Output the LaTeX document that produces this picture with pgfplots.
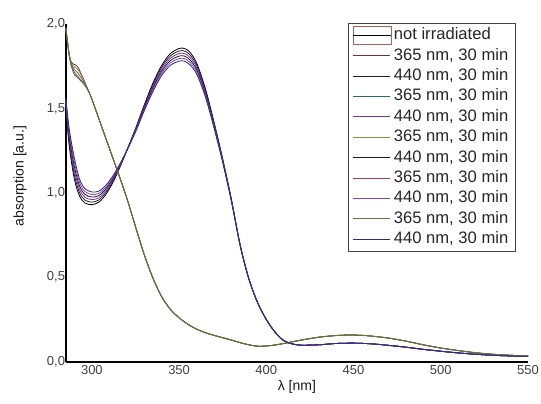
\documentclass[border=0pt]{standalone}
\usepackage{fontspec}
\setmainfont{Liberation Sans}
\usepackage{pgfplots}
\usepackage{pgfplotstable}
\pgfplotsset{compat=1.18}

\definecolor{cB1}{HTML}{7A2A3A}
\definecolor{cA1}{HTML}{2A1A3A}
\definecolor{cB2}{HTML}{2A6A6A}
\definecolor{cA2}{HTML}{7A30A8}
\definecolor{cB3}{HTML}{8A8A40}
\definecolor{cA3}{HTML}{1A1A2A}
\definecolor{cB4}{HTML}{A04050}
\definecolor{cA4}{HTML}{9040B8}
\definecolor{cB5}{HTML}{5A7A38}
\definecolor{cA5}{HTML}{2A2A88}
\definecolor{boxred}{HTML}{B85A5A}

% family A: not irradiated (a0) and after 440 nm (a1..a5)
\pgfplotstableread{
lam a0 a1 a2 a3 a4 a5
285 1.52 1.53 1.54 1.55 1.56 1.57
287 1.28 1.30 1.32 1.34 1.36 1.38
290 1.08 1.105 1.13 1.155 1.18 1.205
293 0.98 1.00 1.02 1.04 1.06 1.08
296 0.94 0.957 0.974 0.991 1.008 1.025
300 0.93 0.945 0.96 0.975 0.99 1.005
304 0.945 0.958 0.971 0.984 0.997 1.01
308 0.99 1.001 1.012 1.023 1.034 1.045
312 1.06 1.068 1.076 1.084 1.092 1.10
316 1.15 1.154 1.158 1.162 1.166 1.17
320 1.25 1.25 1.25 1.25 1.25 1.25
325 1.38 1.376 1.372 1.368 1.364 1.36
330 1.52 1.513 1.506 1.499 1.492 1.485
335 1.65 1.64 1.63 1.62 1.61 1.60
340 1.755 1.743 1.731 1.719 1.707 1.695
345 1.825 1.811 1.797 1.783 1.769 1.755
350 1.855 1.84 1.825 1.81 1.795 1.78
353 1.855 1.84 1.825 1.81 1.795 1.78
356 1.835 1.82 1.805 1.79 1.775 1.76
360 1.77 1.757 1.744 1.731 1.718 1.705
365 1.62 1.61 1.60 1.59 1.58 1.57
370 1.42 1.413 1.406 1.399 1.392 1.385
375 1.20 1.196 1.192 1.188 1.184 1.18
380 0.96 0.958 0.956 0.954 0.952 0.95
385 0.69 0.69 0.69 0.69 0.69 0.69
390 0.49 0.49 0.49 0.49 0.49 0.49
395 0.35 0.35 0.35 0.35 0.35 0.35
400 0.25 0.25 0.25 0.25 0.25 0.25
405 0.175 0.175 0.175 0.175 0.175 0.175
410 0.125 0.125 0.125 0.125 0.125 0.125
415 0.105 0.105 0.105 0.105 0.105 0.105
420 0.098 0.098 0.098 0.098 0.098 0.098
430 0.10 0.10 0.10 0.10 0.10 0.10
440 0.108 0.108 0.108 0.108 0.108 0.108
450 0.11 0.11 0.11 0.11 0.11 0.11
460 0.106 0.106 0.106 0.106 0.106 0.106
470 0.097 0.097 0.097 0.097 0.097 0.097
480 0.086 0.086 0.086 0.086 0.086 0.086
490 0.073 0.073 0.073 0.073 0.073 0.073
500 0.062 0.062 0.062 0.062 0.062 0.062
510 0.052 0.052 0.052 0.052 0.052 0.052
520 0.044 0.044 0.044 0.044 0.044 0.044
530 0.038 0.038 0.038 0.038 0.038 0.038
540 0.034 0.034 0.034 0.034 0.034 0.034
550 0.032 0.032 0.032 0.032 0.032 0.032
}\tableA

% family B: after 365 nm (b1..b5)
\pgfplotstableread{
lam b1 b2 b3 b4 b5
285 1.98 1.975 1.98 1.975 1.98
286 1.90 1.89 1.90 1.895 1.90
287 1.82 1.81 1.82 1.815 1.82
288 1.78 1.76 1.775 1.765 1.77
289 1.765 1.725 1.755 1.735 1.745
290 1.76 1.70 1.745 1.715 1.73
291 1.755 1.69 1.74 1.70 1.72
292 1.745 1.68 1.73 1.69 1.71
293 1.725 1.67 1.715 1.675 1.695
294 1.70 1.66 1.695 1.665 1.68
295 1.68 1.65 1.675 1.655 1.665
296 1.655 1.635 1.652 1.64 1.645
297 1.63 1.62 1.628 1.622 1.625
298 1.607 1.603 1.606 1.604 1.605
300 1.555 1.555 1.555 1.555 1.555
305 1.41 1.41 1.41 1.41 1.41
310 1.265 1.265 1.265 1.265 1.265
315 1.12 1.12 1.12 1.12 1.12
320 0.97 0.97 0.97 0.97 0.97
325 0.80 0.80 0.80 0.80 0.80
330 0.635 0.635 0.635 0.635 0.635
335 0.495 0.495 0.495 0.495 0.495
340 0.385 0.385 0.385 0.385 0.385
345 0.31 0.31 0.31 0.31 0.31
350 0.26 0.26 0.26 0.26 0.26
355 0.222 0.222 0.222 0.222 0.222
360 0.193 0.193 0.193 0.193 0.193
365 0.172 0.172 0.172 0.172 0.172
370 0.156 0.156 0.156 0.156 0.156
375 0.142 0.142 0.142 0.142 0.142
380 0.128 0.128 0.128 0.128 0.128
385 0.113 0.113 0.113 0.113 0.113
390 0.10 0.10 0.10 0.10 0.10
395 0.092 0.092 0.092 0.092 0.092
400 0.093 0.093 0.093 0.093 0.093
405 0.099 0.099 0.099 0.099 0.099
410 0.108 0.108 0.108 0.108 0.108
415 0.118 0.118 0.118 0.118 0.118
420 0.128 0.128 0.128 0.128 0.128
430 0.145 0.145 0.145 0.145 0.145
440 0.155 0.155 0.155 0.155 0.155
448 0.158 0.158 0.158 0.158 0.158
455 0.156 0.156 0.156 0.156 0.156
460 0.152 0.152 0.152 0.152 0.152
470 0.14 0.14 0.14 0.14 0.14
480 0.122 0.122 0.122 0.122 0.122
490 0.10 0.10 0.10 0.10 0.10
500 0.081 0.081 0.081 0.081 0.081
510 0.066 0.066 0.066 0.066 0.066
520 0.053 0.053 0.053 0.053 0.053
530 0.044 0.044 0.044 0.044 0.044
540 0.038 0.038 0.038 0.038 0.038
550 0.034 0.034 0.034 0.034 0.034
}\tableB

\begin{document}
\begin{tikzpicture}
\begin{axis}[
  name=ax,
  scale only axis,
  width=462.3bp, height=337.7bp,
  xmin=285, xmax=550, ymin=0, ymax=2,
  axis lines=left,
  axis line style={line width=1.6bp, -},
  xtick={300,350,400,450,500,550},
  ytick={0,0.5,1,1.5,2},
  major tick length=0pt,
  /pgf/number format/assume math mode=true,
  ticklabel style={font=\fontsize{13bp}{15bp}\selectfont, text=black!75},
  xticklabel style={/pgf/number format/1000 sep={}},
  yticklabel style={inner xsep=0.5bp, /pgf/number format/.cd, fixed, fixed zerofill, precision=1, use comma},
  xlabel={λ [nm]},
  ylabel={absorption [a.u.]},
  label style={font=\fontsize{14bp}{16bp}\selectfont, text=black!90},
  xlabel style={at={(axis description cs:0.5,0)}, anchor=north, yshift=-18bp, inner sep=0pt},
  ylabel style={at={(axis description cs:-0.0989,0.55)}, anchor=center, inner sep=0pt},
  every axis plot/.append style={line width=0.8bp, smooth},
  legend image code/.code={\draw[#1] (0bp,0bp) -- (37bp,0bp);},
  legend cell align=left,
  legend style={at={(1,1)}, anchor=north east, xshift=-12.3bp, yshift=1.3bp,
    draw=black!75, line width=0.8bp, fill=white,
    font=\fontsize{16.6bp}{18bp}\selectfont, text=black!85,
    inner xsep=4.5bp, inner ysep=1.8bp, row sep=0pt,
    nodes={inner xsep=2.5bp, inner ysep=1.2bp, text height=13.5bp, text depth=4.5bp}},
]
\addplot[black, legend image code/.code={\draw[boxred, line width=0.8bp, fill=white] (0bp,-9bp) rectangle (38bp,9bp); \draw[black, line width=0.8bp] (0bp,0bp) -- (38bp,0bp);}] table[x=lam, y=a0] {\tableA};
\addlegendentry{not irradiated}
\addplot[cB1] table[x=lam, y=b1] {\tableB};
\addlegendentry{365 nm, 30 min}
\addplot[cA1] table[x=lam, y=a1] {\tableA};
\addlegendentry{440 nm, 30 min}
\addplot[cB2] table[x=lam, y=b2] {\tableB};
\addlegendentry{365 nm, 30 min}
\addplot[cA2] table[x=lam, y=a2] {\tableA};
\addlegendentry{440 nm, 30 min}
\addplot[cB3] table[x=lam, y=b3] {\tableB};
\addlegendentry{365 nm, 30 min}
\addplot[cA3] table[x=lam, y=a3] {\tableA};
\addlegendentry{440 nm, 30 min}
\addplot[cB4] table[x=lam, y=b4] {\tableB};
\addlegendentry{365 nm, 30 min}
\addplot[cA4] table[x=lam, y=a4] {\tableA};
\addlegendentry{440 nm, 30 min}
\addplot[cB5] table[x=lam, y=b5] {\tableB};
\addlegendentry{365 nm, 30 min}
\addplot[cA5] table[x=lam, y=a5] {\tableA};
\addlegendentry{440 nm, 30 min}
\end{axis}
\pgfresetboundingbox
\path[use as bounding box] ([xshift=-65.7bp,yshift=-42.3bp]ax.south west) rectangle ([xshift=13bp,yshift=24bp]ax.north east);
\end{tikzpicture}
\end{document}
